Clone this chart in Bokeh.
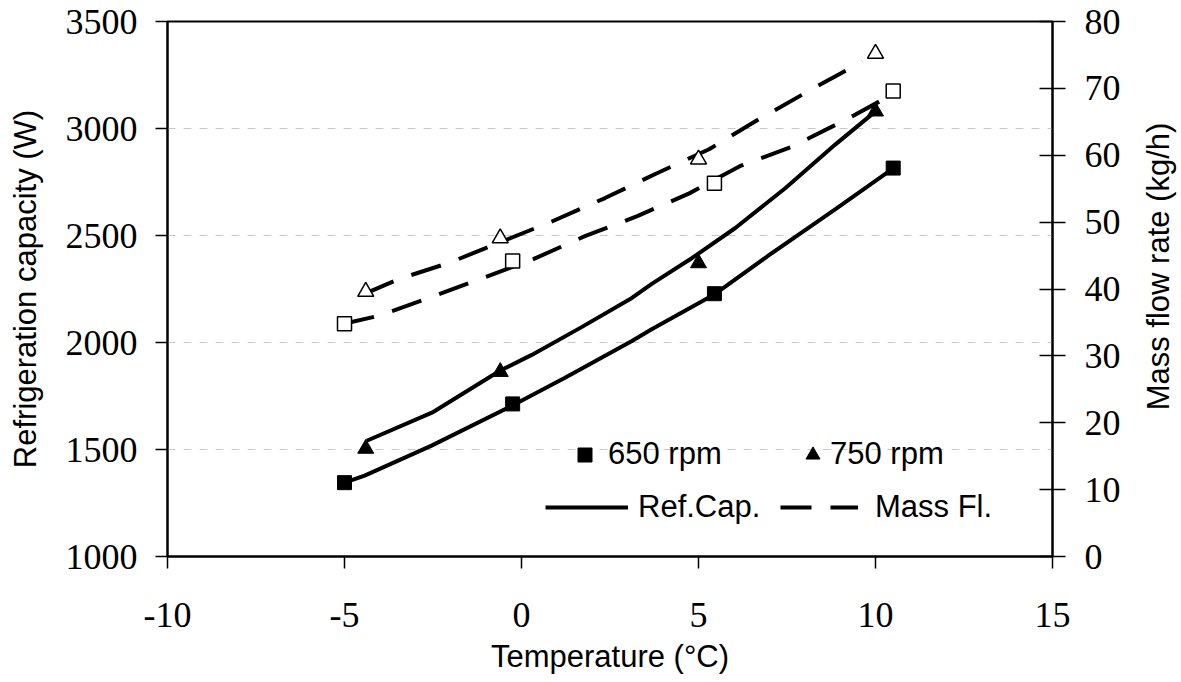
import math
from bokeh.plotting import figure
from bokeh.models import Range1d, LinearAxis, Legend, LegendItem, FixedTicker, Label
from bokeh.embed import file_html
from bokeh.resources import INLINE

# ---- measured points ----
temp_650 = [-5.0, -0.25, 5.45, 10.5]
cap_650 = [1345, 1713, 2228, 2815]
temp_750 = [-4.4, -0.6, 5.0, 10.0]
cap_750 = [1504, 1863, 2371, 3080]
flow_650 = [34.8, 44.2, 55.8, 69.6]
flow_750 = [39.6, 47.6, 59.4, 75.2]

# ---- model curves ----
cx_650 = [-5.0, -4.43, -2.54, -0.27, 1.23, 3.12, 3.69, 5.47, 7.0, 8.87, 10.5]
cy_650 = [1345, 1378, 1518, 1704, 1835, 2007, 2063, 2227, 2409, 2623, 2814]
cx_750 = [-4.37, -2.53, -0.61, 0.29, 1.71, 3.12, 3.69, 4.82, 6.04, 7.45, 8.87, 10.0]
cy_750 = [1541, 1672, 1868, 1942, 2073, 2208, 2275, 2395, 2535, 2721, 2926, 3080]
fx_650 = [-5.02, -4.03, -2.59, -1.12, 0.35, 1.79, 3.27, 4.74, 6.18, 7.65, 9.12, 10.48]
fy_650 = [34.8, 36.0, 38.7, 41.6, 44.5, 47.9, 50.9, 54.3, 58.4, 61.3, 65.2, 69.1]
fx_750 = [-4.42, -3.46, -2.05, -0.64, 0.86, 2.36, 3.78, 5.30, 6.71, 8.21, 9.63]
fy_750 = [39.3, 41.5, 43.9, 46.9, 50.1, 53.6, 57.2, 60.9, 65.4, 69.9, 74.0]

x_ticks = [-10, -5, 0, 5, 10, 15]
cap_ticks = [1000, 1500, 2000, 2500, 3000, 3500]
flow_ticks = [0, 10, 20, 30, 40, 50, 60, 70, 80]
grid_ticks = [1500, 2000, 2500, 3000]

SERIF = "Liberation Serif"
SANS = "Liberation Sans"

p = figure(width=1181, height=682, output_backend="svg", toolbar_location=None,
           x_range=Range1d(-10, 15), y_range=Range1d(1000, 3500),
           min_border_left=167, min_border_right=129, min_border_top=21, min_border_bottom=126)
p.extra_y_ranges = {"flow": Range1d(0, 80)}
p.background_fill_color = "white"
p.border_fill_color = "white"
p.outline_line_color = "black"
p.outline_line_width = 2

p.xgrid.grid_line_color = None
p.ygrid.ticker = FixedTicker(ticks=grid_ticks)
p.ygrid.grid_line_color = "#c8c8c8"
p.ygrid.grid_line_dash = "8 8"
p.ygrid.grid_line_width = 1

def style_axis(ax, tin, tout, standoff):
    ax.axis_line_color = "black"
    ax.axis_line_width = 2
    ax.major_tick_line_color = "black"
    ax.major_tick_line_width = 1.5
    ax.major_tick_in = tin
    ax.major_tick_out = tout
    ax.minor_tick_line_color = None
    ax.major_label_text_font = SERIF
    ax.major_label_text_font_size = "36px"
    ax.major_label_text_color = "black"
    ax.major_label_standoff = standoff
    ax.axis_label_text_font = SANS
    ax.axis_label_text_font_size = "31px"
    ax.axis_label_text_font_style = "normal"
    ax.axis_label_text_color = "black"

xa = p.xaxis[0]
xa.ticker = FixedTicker(ticks=x_ticks)
xa.axis_label = "Temperature (°C)"
xa.major_label_overrides = {-10: "-10", -5: "-5"}
style_axis(xa, 0, 12, 34)
xa.axis_label_standoff = 9

ya = p.yaxis[0]
ya.ticker = FixedTicker(ticks=cap_ticks)
ya.axis_label = "Refrigeration capacity (W)"
style_axis(ya, 0, 12, 18)
ya.axis_label_standoff = 20

ra = LinearAxis(y_range_name="flow", ticker=FixedTicker(ticks=flow_ticks))
style_axis(ra, 13, 13, 19)
p.add_layout(ra, "right")

# right axis title, reading bottom-to-top like the left one, in the right side panel
p.add_layout(Label(x=1160 - 1125, y=556 - 266, x_units="screen", y_units="screen",
                   text="Mass flow rate (kg/h)", angle=math.pi / 2,
                   text_align="center", text_baseline="middle",
                   text_font=SANS, text_font_size="31px", text_color="black"), "right")

# curves
r_cap650 = p.line(cx_650, cy_650, line_color="black", line_width=4)
r_cap750 = p.line(cx_750, cy_750, line_color="black", line_width=4)
r_fl650 = p.line(fx_650, fy_650, line_color="black", line_width=4, line_dash="31 19",
                 y_range_name="flow")
r_fl750 = p.line(fx_750, fy_750, line_color="black", line_width=4, line_dash="31 19",
                 y_range_name="flow")

# markers
r_sq = p.scatter(temp_650, cap_650, marker="square", size=14, fill_color="black", line_color="black")
r_tr = p.scatter(temp_750, cap_750, marker="triangle", size=16, fill_color="black", line_color="black")
p.scatter(temp_650, flow_650, marker="square", size=14, fill_color="white", line_color="black",
          line_width=1.5, y_range_name="flow")
p.scatter(temp_750, flow_750, marker="triangle", size=16, fill_color="white", line_color="black",
          line_width=1.5, y_range_name="flow")

def make_legend(label, rend, loc, gw, gh, standoff):
    lg = Legend(items=[LegendItem(label=label, renderers=[rend])], location=loc,
                glyph_width=gw, glyph_height=gh, label_standoff=standoff,
                padding=0, margin=0, spacing=0, border_line_color=None,
                background_fill_alpha=0, label_text_font=SANS, label_text_font_size="31px",
                label_text_color="black", label_height=gh)
    p.add_layout(lg)

make_legend("650 rpm", r_sq, (400, 84), 35, 35, 6)
make_legend("750 rpm", r_tr, (628, 84), 35, 35, 0)
make_legend("Ref.Cap.", r_cap650, (378, 31), 83, 20, 10)
make_legend("Mass Fl.", r_fl650, (613, 31), 78, 20, 17)

open("out.html", "w").write(file_html(p, INLINE))
